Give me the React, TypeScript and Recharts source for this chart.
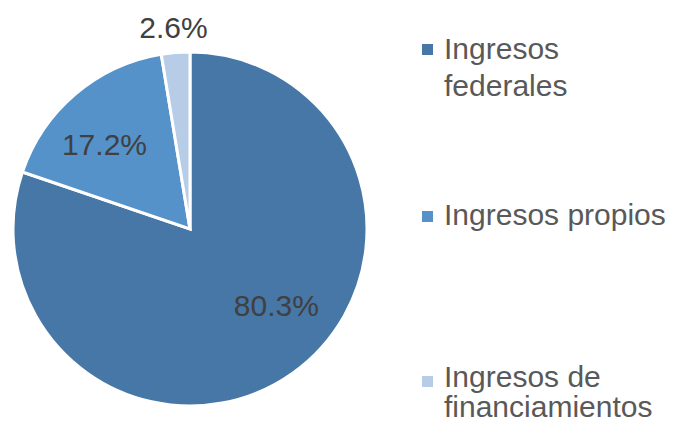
import { PieChart, Pie, Cell, Legend } from "recharts";

const categories = ["Ingresos federales", "Ingresos propios", "Ingresos de financiamientos"];
const shares = [80.3, 17.2, 2.6];
const legendLines = [["Ingresos", "federales"], ["Ingresos propios"], ["Ingresos de", "financiamientos"]];

const COLORS = ["#4777A7", "#5592CA", "#B7CCE7"];
const FONT = "'Liberation Sans', Arial, sans-serif";
const RAD = Math.PI / 180;

const data = categories.map((name, i) => ({ name, value: shares[i] }));

// excel "best fit" puts labels a bit off the mid angle
const labelNudge = [13, 5, 0];

function renderLabel(props: any) {
  const { cx, cy, midAngle, outerRadius, index, value } = props;
  const outside = value < 5;
  const r = outside ? outerRadius + 25 : outerRadius * (index === 0 ? 0.65 : 0.68);
  const a = (midAngle + labelNudge[index]) * RAD;
  const x = cx + r * Math.cos(-a);
  const y = cy + r * Math.sin(-a);
  return (
    <text
      x={x}
      y={y}
      textAnchor="middle"
      dominantBaseline="central"
      fill="#404040"
      fontSize={30}
      fontFamily={FONT}
    >
      {value.toFixed(1)}%
    </text>
  );
}

const legendTops = [22, 189, 354];
const legendLineHeights = [37, 36, 30];

function LegendContent() {
  return (
    <div style={{ position: "relative", width: 266, height: 432, fontFamily: FONT }}>
      {legendLines.map((lines, i) => (
        <div
          key={i}
          style={{
            position: "absolute",
            left: 0,
            top: legendTops[i],
            fontSize: 30,
            lineHeight: legendLineHeights[i] + "px",
            color: "#595959",
          }}
        >
          <span
            style={{
              position: "absolute",
              left: 0,
              top: 14,
              width: 11,
              height: 11,
              background: COLORS[i],
            }}
          />
          <div style={{ marginLeft: 22, whiteSpace: "nowrap" }}>
            {lines.map((l, j) => (
              <div key={j}>{l}</div>
            ))}
          </div>
        </div>
      ))}
    </div>
  );
}

export default function App() {
  return (
    <PieChart width={680} height={432} margin={{ top: 0, right: 0, bottom: 0, left: 0 }}>
      <Pie
        data={data}
        dataKey="value"
        nameKey="name"
        cx={182}
        cy={221}
        outerRadius={177}
        startAngle={90}
        endAngle={-270}
        stroke="#ffffff"
        strokeWidth={3}
        label={renderLabel}
        labelLine={false}
        isAnimationActive={false}
      >
        {data.map((d, i) => (
          <Cell key={d.name} fill={COLORS[i]} />
        ))}
      </Pie>
      <Legend
        layout="vertical"
        align="right"
        verticalAlign="top"
        content={<LegendContent />}
        wrapperStyle={{ position: "absolute", left: 414, top: 0, width: 266, height: 432 }}
      />
    </PieChart>
  );
}
